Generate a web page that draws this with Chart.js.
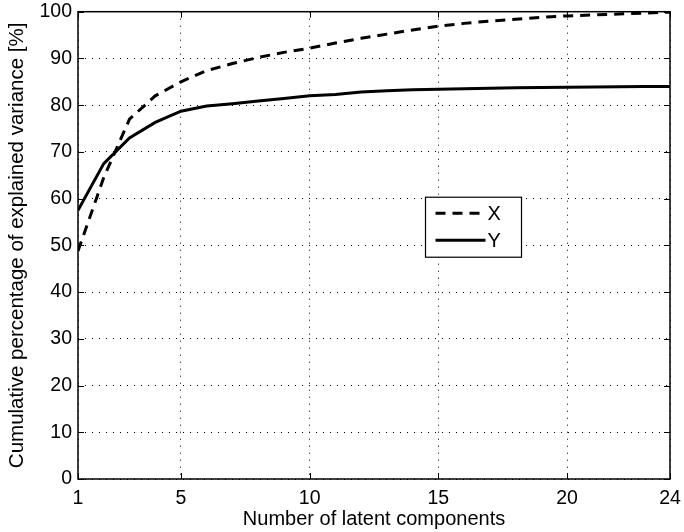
<!DOCTYPE html>
<html>
<head>
<meta charset="utf-8">
<script src="https://cdn.jsdelivr.net/npm/chart.js@4/dist/chart.umd.min.js"></script>
<style>
  body { margin: 0; background: #fff; }
</style>
</head>
<body>
<canvas id="chart" width="684" height="532"></canvas>
<script>
// components on the x axis
const components = [1, 2, 3, 4, 5, 6, 7, 8, 9, 10, 11, 12, 13, 14, 15, 16, 17, 18, 19, 20, 21, 22, 23, 24];
// cumulative explained variance [%]
const varianceX = [48.8, 64.5, 77, 82, 85, 87.4, 88.9, 90.2, 91.3, 92.2, 93.3, 94.3, 95.2, 96.1, 96.9, 97.5, 98.0, 98.4, 98.8, 99.1, 99.3, 99.5, 99.7, 99.9];
const varianceY = [57.5, 67.5, 73.0, 76.3, 78.7, 79.8, 80.3, 80.9, 81.4, 82.0, 82.3, 82.8, 83.1, 83.3, 83.4, 83.5, 83.6, 83.7, 83.8, 83.85, 83.9, 83.95, 84.0, 84.0];
const seriesNames = ['X', 'Y'];
const xTicks = [1, 5, 10, 15, 20, 24];

const FONT = "'Liberation Sans', Arial, sans-serif";

function toPoints(xs, ys) {
    return xs.map((x, i) => ({ x: x, y: ys[i] }));
}

// box around the plot and MATLAB style inward ticks
const boxPlugin = {
    id: 'box',
    afterDraw(chart) {
        const ctx = chart.ctx;
        const a = chart.chartArea;
        const xs = chart.scales.x;
        const ys = chart.scales.y;
        ctx.save();
        ctx.strokeStyle = '#000';
        ctx.lineWidth = 1.5;
        ctx.strokeRect(a.left, a.top, a.right - a.left, a.bottom - a.top);
        ctx.lineWidth = 1;
        ctx.beginPath();
        xs.ticks.forEach(t => {
            const px = Math.round(xs.getPixelForValue(t.value)) + 0.5;
            ctx.moveTo(px, a.bottom); ctx.lineTo(px, a.bottom - 6);
            ctx.moveTo(px, a.top); ctx.lineTo(px, a.top + 6);
        });
        ys.ticks.forEach(t => {
            const py = Math.round(ys.getPixelForValue(t.value)) + 0.5;
            ctx.moveTo(a.left, py); ctx.lineTo(a.left + 6, py);
            ctx.moveTo(a.right, py); ctx.lineTo(a.right - 6, py);
        });
        ctx.stroke();
        ctx.restore();
    }
};

// legend box inside the axes
const legendPlugin = {
    id: 'boxLegend',
    afterDraw(chart) {
        const ctx = chart.ctx;
        const a = chart.chartArea;
        const left = a.left + (a.right - a.left) * 0.587;
        const top = a.top + (a.bottom - a.top) * 0.397;
        const w = 96, h = 60;
        ctx.save();
        ctx.fillStyle = '#fff';
        ctx.fillRect(left, top, w, h);
        ctx.strokeStyle = '#000';
        ctx.lineWidth = 1.2;
        ctx.strokeRect(left, top, w, h);
        chart.data.datasets.forEach((ds, i) => {
            const y = top + 16 + i * 27;
            ctx.beginPath();
            ctx.lineWidth = ds.borderWidth;
            ctx.setLineDash(ds.borderDash || []);
            ctx.moveTo(left + 10, y);
            ctx.lineTo(left + 60, y);
            ctx.stroke();
            ctx.setLineDash([]);
            ctx.fillStyle = '#000';
            ctx.font = '20px ' + FONT;
            ctx.textBaseline = 'middle';
            ctx.fillText(ds.label, left + 62, y + 1);
        });
        ctx.restore();
    }
};

const chart = new Chart(document.getElementById('chart'), {
    type: 'line',
    data: {
        datasets: [
            {
                label: seriesNames[0],
                data: toPoints(components, varianceX),
                borderColor: '#000',
                borderWidth: 3,
                borderDash: [10, 7],
                pointRadius: 0,
                fill: false
            },
            {
                label: seriesNames[1],
                data: toPoints(components, varianceY),
                borderColor: '#000',
                borderWidth: 3,
                pointRadius: 0,
                fill: false
            }
        ]
    },
    options: {
        responsive: false,
        devicePixelRatio: 1,
        animation: false,
        layout: { padding: { top: 11.7, right: 14, left: 0, bottom: 0 } },
        plugins: {
            legend: { display: false },
            tooltip: { enabled: false }
        },
        scales: {
            x: {
                type: 'linear',
                min: 1,
                max: 24,
                afterBuildTicks(scale) {
                    scale.ticks = xTicks.map(v => ({ value: v }));
                },
                afterFit(scale) {
                    scale.height = 53;
                    scale.paddingLeft = 0;
                    scale.paddingRight = 0;
                },
                grid: {
                    color: '#000',
                    lineWidth: 1,
                    drawTicks: false
                },
                border: { display: false, dash: [1, 6] },
                ticks: {
                    color: '#000',
                    font: { family: FONT, size: 19.5 },
                    padding: 8,
                    maxRotation: 0,
                    autoSkip: false
                },
                title: {
                    display: true,
                    text: 'Number of latent components',
                    color: '#000',
                    font: { family: FONT, size: 20 },
                    padding: { top: 0, bottom: 1 }
                }
            },
            y: {
                min: 0,
                max: 100,
                afterFit(scale) {
                    scale.width = 78;
                    scale.paddingTop = 0;
                    scale.paddingBottom = 0;
                },
                grid: {
                    color: '#000',
                    lineWidth: 1,
                    drawTicks: false
                },
                border: { display: false, dash: [1, 6] },
                ticks: {
                    stepSize: 10,
                    color: '#000',
                    font: { family: FONT, size: 19.5 },
                    padding: 6
                },
                title: {
                    display: true,
                    text: 'Cumulative percentage of explained variance [%]',
                    color: '#000',
                    font: { family: FONT, size: 20.5 },
                    padding: { top: 5, bottom: 0 }
                }
            }
        }
    },
    plugins: [boxPlugin, legendPlugin]
});
</script>
</body>
</html>
